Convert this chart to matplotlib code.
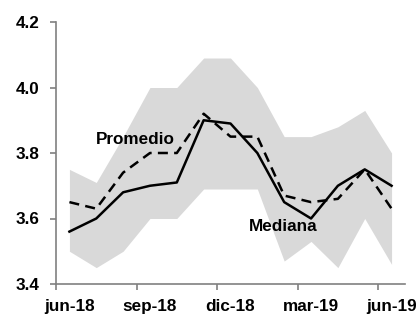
import matplotlib
matplotlib.use("Agg")
import matplotlib.pyplot as plt
import numpy as np

# monthly survey, jun-18 .. jun-19
months = ["jun-18", "jul-18", "ago-18", "sep-18", "oct-18", "nov-18", "dic-18",
          "ene-19", "feb-19", "mar-19", "abr-19", "may-19", "jun-19"]
mediana = [3.56, 3.60, 3.68, 3.70, 3.71, 3.90, 3.89, 3.80, 3.65, 3.60, 3.70, 3.75, 3.70]
promedio = [3.65, 3.63, 3.74, 3.80, 3.80, 3.92, 3.85, 3.85, 3.67, 3.65, 3.66, 3.75, 3.63]
band_hi = [3.75, 3.71, 3.85, 4.00, 4.00, 4.09, 4.09, 4.00, 3.85, 3.85, 3.88, 3.93, 3.80]
band_lo = [3.50, 3.45, 3.50, 3.60, 3.60, 3.69, 3.69, 3.69, 3.47, 3.53, 3.45, 3.60, 3.46]
label_months = ["jun-18", "sep-18", "dic-18", "mar-19", "jun-19"]

plt.rcParams["font.family"] = ["Liberation Sans", "DejaVu Sans"]
plt.rcParams["font.weight"] = "bold"

fig = plt.figure(figsize=(4.19, 3.19), dpi=100)
ax = fig.add_axes([56 / 419, 35 / 319, 349 / 419, 262 / 319])

x = np.arange(len(months))
ax.fill_between(x, band_lo, band_hi, color="#d9d9d9", linewidth=0)
ax.plot(x, mediana, color="black", linewidth=1.8)
ax.plot(x, promedio, color="black", linewidth=1.8, dashes=(4, 2.5))

ax.text(2.47, 3.84, "Promedio", ha="center", va="center", fontsize=12.3, fontweight="bold")
ax.text(7.96, 3.575, "Mediana", ha="center", va="center", fontsize=12.3, fontweight="bold")

ax.set_xlim(-0.5, len(months) - 0.5)
ax.set_ylim(3.4, 4.2)
ax.set_yticks(np.arange(3.4, 4.21, 0.2))
ax.set_yticklabels(["%.1f" % v for v in np.arange(3.4, 4.21, 0.2)])

label_pos = [months.index(m) for m in label_months]
ax.set_xticks([p - 0.5 for p in label_pos])
ax.set_xticklabels([])
ax.set_xticks(label_pos, minor=True)
ax.set_xticklabels(label_months, minor=True)
ax.tick_params(axis="x", which="minor", length=0, pad=11)
ax.tick_params(axis="x", which="major", length=4, color="#808080", width=1.2)
ax.tick_params(axis="y", length=4, color="#808080", width=1.2, pad=8)
for lab in ax.get_xticklabels(minor=True) + ax.get_yticklabels():
    lab.set_fontsize(12.3)
    lab.set_fontweight("bold")

for s in ["top", "right"]:
    ax.spines[s].set_visible(False)
for s in ["left", "bottom"]:
    ax.spines[s].set_color("#808080")
    ax.spines[s].set_linewidth(1.2)

fig.savefig("out.png", dpi=100)
